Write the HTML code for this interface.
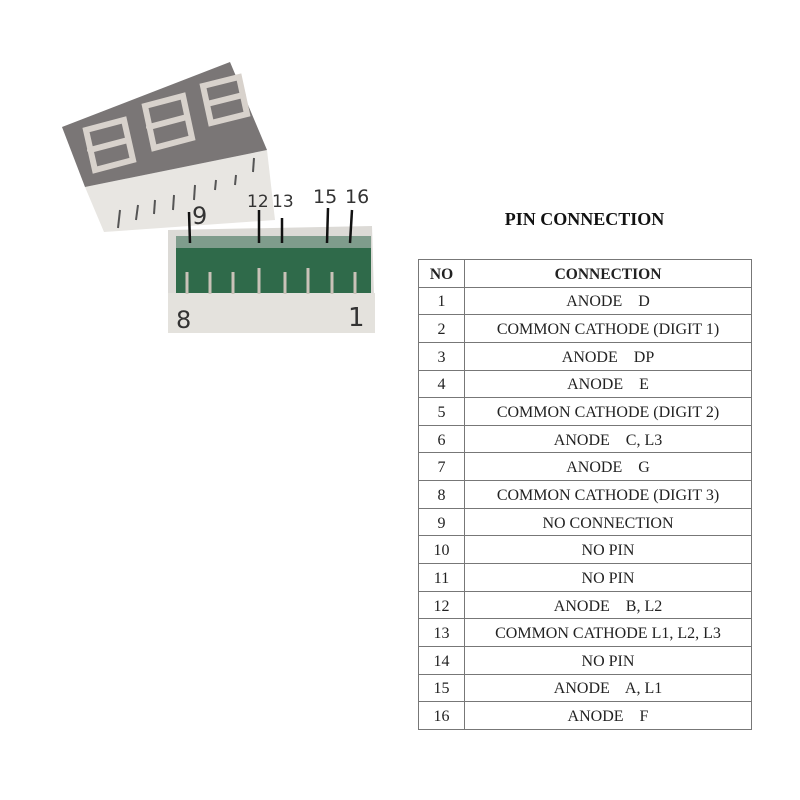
<!DOCTYPE html>
<html><head><meta charset="utf-8"><style>
body{margin:0;width:800px;height:800px;background:#fff;position:relative;overflow:hidden;font-family:"Liberation Serif",serif}
#title{position:absolute;left:418px;width:333px;top:209px;text-align:center;font-weight:bold;font-size:18px;color:#111}
table{position:absolute;left:418px;top:259px;width:334px;border-collapse:collapse;font-size:16px;color:#222}
td,th{border:1px solid #777;height:23.65px;padding:3px 0 0 0;text-align:center;line-height:16px;box-sizing:content-box}
th{font-size:15.5px}
td:first-child{width:45px}
svg{position:absolute;left:0;top:0}
.lb{font-family:"DejaVu Sans",sans-serif;fill:#333}
</style></head><body>
<svg width="410" height="350">
<polygon points="85,187 267,150 275,220 104,232" fill="#e8e6e2"/>
<polygon points="62,127 230,62 267,150 85,187" fill="#7a7676"/>
<g stroke="#d8d2cc" stroke-width="6" fill="none" stroke-linecap="round">
<path d="M86,130 L124,120 L133,160 L95,170 Z M90,150 L128,140"/>
<path d="M145,106 L183,96 L192,138 L154,148 Z M149,127 L187,117"/>
<path d="M203,86 L239,77 L247,114 L211,123 Z M207,104 L243,95"/>
</g>
<g stroke="#555" stroke-width="2">
<line x1="120" y1="210" x2="118" y2="228"/><line x1="138" y1="205" x2="136" y2="220"/><line x1="155" y1="200" x2="154" y2="214"/><line x1="174" y1="195" x2="173" y2="210"/><line x1="195" y1="185" x2="194" y2="200"/><line x1="216" y1="180" x2="215" y2="190"/><line x1="236" y1="175" x2="235" y2="185"/><line x1="254" y1="158" x2="253" y2="172"/>
</g>
<polygon points="168,230 372,226 375,333 168,333" fill="#dcdad6"/>
<rect x="176" y="236" width="195" height="58" fill="#2f6a4a"/>
<rect x="176" y="236" width="195" height="12" fill="#7f9c8c"/>
<polygon points="168,293 375,293 375,333 168,333" fill="#e4e2dd"/>
<g stroke="#c9c2b8" stroke-width="3">
<line x1="187" y1="272" x2="187" y2="294"/><line x1="210" y1="272" x2="210" y2="294"/><line x1="233" y1="272" x2="233" y2="294"/><line x1="259" y1="268" x2="259" y2="294"/><line x1="285" y1="272" x2="285" y2="294"/><line x1="308" y1="268" x2="308" y2="294"/><line x1="332" y1="272" x2="332" y2="294"/><line x1="355" y1="272" x2="355" y2="294"/>
</g>
<g stroke="#111" stroke-width="2.5">
<line x1="189" y1="212" x2="190" y2="243"/><line x1="259" y1="210" x2="259" y2="243"/><line x1="282" y1="218" x2="282" y2="243"/><line x1="328" y1="208" x2="327" y2="243"/><line x1="352" y1="210" x2="350" y2="243"/>
</g>
<text class="lb" x="192" y="224" font-size="24">9</text>
<text class="lb" x="247" y="207" font-size="17">12</text>
<text class="lb" x="272" y="207" font-size="17">13</text>
<text class="lb" x="313" y="203" font-size="19">15</text>
<text class="lb" x="345" y="203" font-size="19">16</text>
<text class="lb" x="176" y="328" font-size="24">8</text>
<text class="lb" x="348" y="326" font-size="26">1</text>
</svg>
<div id="title">PIN CONNECTION</div>
<table>
<tr><th>NO</th><th>CONNECTION</th></tr>
<tr><td>1</td><td>ANODE &nbsp;&nbsp; D</td></tr>
<tr><td>2</td><td>COMMON CATHODE (DIGIT 1)</td></tr>
<tr><td>3</td><td>ANODE &nbsp;&nbsp; DP</td></tr>
<tr><td>4</td><td>ANODE &nbsp;&nbsp; E</td></tr>
<tr><td>5</td><td>COMMON CATHODE (DIGIT 2)</td></tr>
<tr><td>6</td><td>ANODE &nbsp;&nbsp; C, L3</td></tr>
<tr><td>7</td><td>ANODE &nbsp;&nbsp; G</td></tr>
<tr><td>8</td><td>COMMON CATHODE (DIGIT 3)</td></tr>
<tr><td>9</td><td>NO CONNECTION</td></tr>
<tr><td>10</td><td>NO PIN</td></tr>
<tr><td>11</td><td>NO PIN</td></tr>
<tr><td>12</td><td>ANODE &nbsp;&nbsp; B, L2</td></tr>
<tr><td>13</td><td>COMMON CATHODE L1, L2, L3</td></tr>
<tr><td>14</td><td>NO PIN</td></tr>
<tr><td>15</td><td>ANODE &nbsp;&nbsp; A, L1</td></tr>
<tr><td>16</td><td>ANODE &nbsp;&nbsp; F</td></tr>
</table>
</body></html>
